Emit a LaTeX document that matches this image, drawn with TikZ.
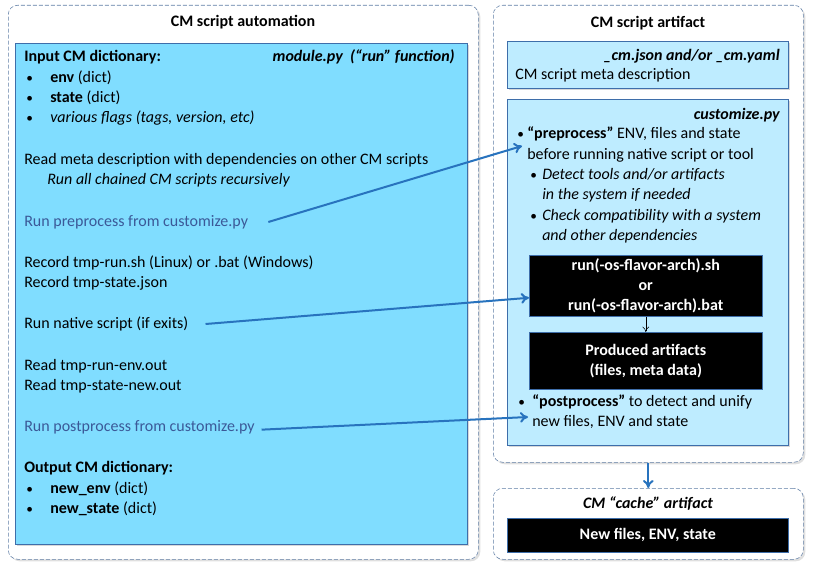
\documentclass[tikz,border=0pt,12pt]{standalone}
\usepackage{fontspec}
\setmainfont{Carlito}
\usetikzlibrary{arrows.meta,shadows}
\definecolor{skyfill}{RGB}{128,221,255}
\definecolor{palefill}{RGB}{190,236,255}
\definecolor{boxline}{RGB}{62,110,170}
\definecolor{dashline}{RGB}{95,125,165}
\definecolor{linkblue}{RGB}{40,115,190}
\definecolor{steptext}{RGB}{59,89,152}

\begin{document}
\begin{tikzpicture}[x=0.75pt, y=-0.75pt, >={To[length=6pt,width=8pt]},
    group/.style={draw=dashline, dash pattern=on 3pt off 1.5pt, rounded corners=7pt,
        fill=white, anchor=north west, inner sep=0pt,
        drop shadow={opacity=0.25, shadow xshift=1.5pt, shadow yshift=-1.5pt}},
    panel/.style={draw=boxline, fill=#1, anchor=north west, inner sep=0pt,
        drop shadow={opacity=0.3, shadow xshift=1.5pt, shadow yshift=-1.5pt}},
    blackbox/.style={draw=boxline, fill=black, text=white, align=center,
        font=\bfseries, anchor=north west, inner sep=0pt},
    txt/.style={anchor=west, inner sep=0pt, text height=9pt, text depth=2.5pt},
    rtxt/.style={txt, anchor=east},
    dot/.style={txt, font=\footnotesize},
    link/.style={->, linkblue, line width=1.5pt}]

    \useasboundingbox (0,0) rectangle (817,567);

    \node[group, minimum width=352.5pt, minimum height=415.5pt] (automation) at (8,5) {};
    \node[font=\bfseries] (autotitle) at (243,22) {CM script automation};
    \node[panel=skyfill, minimum width=339pt, minimum height=375.75pt] (module) at (15,43) {};

    \node[txt, font=\bfseries] (incm) at (24,57) {Input CM dictionary:};
    \node[rtxt, font=\bfseries\itshape] (modname) at (455,57) {module.py\ \ (“run” function)};
    \node[dot] (b1) at (26,78) {\textbullet};
    \node[txt] (env) at (50,78) {\textbf{env} (dict)};
    \node[dot] (b2) at (26,98) {\textbullet};
    \node[txt] (state) at (50,98) {\textbf{state} (dict)};
    \node[dot] (b3) at (26,118) {\textbullet};
    \node[txt, font=\itshape] (flags) at (50,118) {various flags (tags, version, etc)};
    \node[txt] (readmeta) at (24,160) {Read meta description with dependencies on other CM scripts};
    \node[txt, font=\itshape] (chained) at (47,180) {Run all chained CM scripts recursively};
    \node[txt, steptext] (runpre) at (24,222) {Run preprocess from customize.py};
    \node[txt] (recrun) at (24,263) {Record tmp-run.sh (Linux) or .bat (Windows)};
    \node[txt] (recstate) at (24,283) {Record tmp-state.json};
    \node[txt] (runnative) at (24,324) {Run native script (if exits)};
    \node[txt] (readenv) at (24,366) {Read tmp-run-env.out};
    \node[txt] (readstate) at (24,386) {Read tmp-state-new.out};
    \node[txt, steptext] (runpost) at (24,427) {Run postprocess from customize.py};
    \node[txt, font=\bfseries] (outcm) at (24,468) {Output CM dictionary:};
    \node[dot] (b4) at (26,489) {\textbullet};
    \node[txt] (newenv) at (50,489) {\textbf{new\_env} (dict)};
    \node[dot] (b5) at (26,509) {\textbullet};
    \node[txt] (newstate) at (50,509) {\textbf{new\_state} (dict)};

    \node[group, minimum width=232.5pt, minimum height=342.75pt] (artifact) at (493,5) {};
    \node[font=\bfseries] (arttitle) at (648,23) {CM script artifact};
    \node[panel=palefill, minimum width=210.75pt, minimum height=35.25pt] (meta) at (507,41) {};
    \node[rtxt, font=\bfseries\itshape] (metaname) at (780,56) {\_cm.json and/or \_cm.yaml};
    \node[txt] (metadesc) at (515,75) {CM script meta description};

    \node[panel=palefill, minimum width=210.75pt, minimum height=259.5pt] (custom) at (507,99) {};
    \node[rtxt, font=\bfseries\itshape] (customname) at (780,115) {customize.py};
    \node[dot] (c1) at (517,134) {\textbullet};
    \node[txt] (pre1) at (527,134) {\textbf{“preprocess”} ENV, files and state};
    \node[txt] (pre2) at (527,155) {before running native script or tool};
    \node[dot] (c2) at (530,175) {\textbullet};
    \node[txt, font=\itshape] (detect1) at (542,175) {Detect tools and/or artifacts};
    \node[txt, font=\itshape] (detect2) at (542,195) {in the system if needed};
    \node[dot] (c3) at (530,216) {\textbullet};
    \node[txt, font=\itshape] (check1) at (542,216) {Check compatibility with a system};
    \node[txt, font=\itshape] (check2) at (542,236) {and other dependencies};
    \node[blackbox, minimum width=174.75pt, minimum height=45.75pt] (runscript) at (529,255)
        {run(-os-flavor-arch).sh\\[0.5pt]or\\[0.5pt]run(-os-flavor-arch).bat};
    \node[blackbox, minimum width=174.75pt, minimum height=42.75pt] (produced) at (529,332)
        {Produced artifacts\\[0.5pt](files, meta data)};
    \node[dot] (c4) at (518,402) {\textbullet};
    \node[txt] (post1) at (532,402) {\textbf{“postprocess”} to detect and unify};
    \node[txt] (post2) at (532,422) {new files, ENV and state};

    \node[group, minimum width=232.5pt, minimum height=53.25pt] (cache) at (493,488) {};
    \node[font=\bfseries\itshape] (cachetitle) at (648,504) {CM “cache” artifact};
    \node[blackbox, minimum width=210.75pt, minimum height=25.5pt] (newfiles) at (507,518)
        {New files, ENV, state};

    \coordinate (prein) at (522,146);
    \coordinate (postin) at (528,417);

    \draw[link] ([xshift=15pt]runpre.east) -- (prein);
    \draw[link] ([xshift=12.75pt]runnative.east) -- ([yshift=-9pt]runscript.west);
    \draw[link] ([xshift=5pt, yshift=-2pt]runpost.east) -- (postin);
    \draw[->, >={To[length=4pt,width=5pt]}] (runscript.south) -- (produced.north);
    \draw[link] (artifact.south) -- (cache.north);
\end{tikzpicture}
\end{document}
